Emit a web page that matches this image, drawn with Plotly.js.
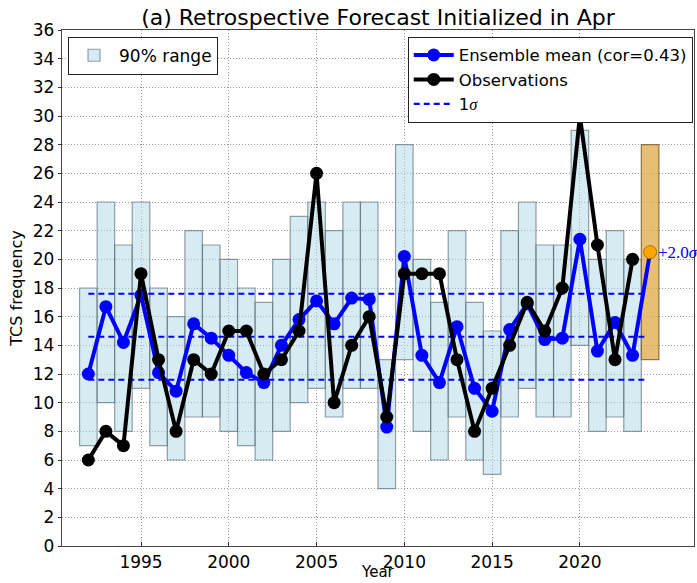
<!DOCTYPE html>
<html>
<head>
<meta charset="utf-8">
<script src="https://cdn.plot.ly/plotly-3.0.1.min.js"></script>
<style>html,body{margin:0;padding:0;background:#fff;}#chart{width:697px;height:583px;}</style>
</head>
<body>
<div id="chart"></div>
<script>
// ---- data ----
const years = [1992,1993,1994,1995,1996,1997,1998,1999,2000,2001,2002,2003,2004,2005,2006,2007,2008,2009,2010,2011,2012,2013,2014,2015,2016,2017,2018,2019,2020,2021,2022,2023];
const rangeLow  = [7,10,8,11,7,6,9,9,8,7,6,8,10,11,9,11,11,4,13,8,6,9,6,5,9,11,9,9,14,8,9,8];
const rangeHigh = [18,24,21,24,18,16,22,21,20,18,17,20,23,24,22,24,24,13,28,20,17,22,17,15,22,24,21,21,29,20,22,20];
const ensMean = [12.0,16.7,14.2,17.5,12.1,10.8,15.5,14.5,13.3,12.1,11.4,14.0,15.8,17.1,15.5,17.3,17.2,8.3,20.2,13.3,11.4,15.3,11.0,9.4,15.1,16.9,14.4,14.5,21.4,13.6,15.6,13.3];
const observations = [6,8,7,19,13,8,13,12,15,15,12,13,15,26,10,14,16,9,19,19,19,13,8,11,14,17,15,18,30,21,13,20];
const fcstYear = 2024;
const fcstMean = 20.5;
const fcstLow = 13;
const fcstHigh = 28;
const fcstLabel = '+2.0';
const sigmaLevels = [11.6, 14.6, 17.6];
const corText = '0.43';
const xTicks = [1995,2000,2005,2010,2015,2020];
const yTicks = [0,2,4,6,8,10,12,14,16,18,20,22,24,26,28,30,32,34,36];

// ---- traces ----
const sigX = [], sigY = [];
sigmaLevels.forEach(v => { sigX.push(years[0], fcstYear - 0.2, null); sigY.push(v, v, null); });

const traces = [
  {
    type: 'bar', x: years, base: rangeLow, y: rangeHigh.map((h,i)=>h-rangeLow[i]),
    width: 1, name: '90% range', legend: 'legend',
    marker: {color: 'rgba(173,216,230,0.5)', line: {color: 'rgba(80,100,110,0.6)', width: 1.2}},
    hoverinfo: 'skip'
  },
  {
    type: 'bar', x: [fcstYear], base: [fcstLow], y: [fcstHigh - fcstLow], width: 1,
    showlegend: false,
    marker: {color: 'rgba(222,170,70,0.75)', line: {color: 'rgba(120,90,40,0.8)', width: 1.2}},
    hoverinfo: 'skip'
  },
  {
    type: 'scatter', mode: 'lines', x: sigX, y: sigY, name: '1<span style="font-family:Liberation Serif;font-style:italic">σ</span>',
    legend: 'legend2', legendrank: 3,
    line: {color: '#0000ff', width: 2.2, dash: '6px,4px'}
  },
  {
    type: 'scatter', mode: 'lines', x: [years[years.length-1], fcstYear], y: [ensMean[ensMean.length-1], fcstMean],
    showlegend: false, line: {color: '#0000ff', width: 4}
  },
  {
    type: 'scatter', mode: 'lines+markers', x: years, y: ensMean,
    name: 'Ensemble mean (cor=' + corText + ')', legend: 'legend2', legendrank: 1,
    line: {color: '#0000ff', width: 4}, marker: {color: '#0000ff', size: 13}
  },
  {
    type: 'scatter', mode: 'lines+markers', x: years, y: observations,
    name: 'Observations', legend: 'legend2', legendrank: 2,
    line: {color: '#000000', width: 4}, marker: {color: '#000000', size: 13}
  },
  {
    type: 'scatter', mode: 'markers', x: [fcstYear], y: [fcstMean], showlegend: false,
    marker: {color: '#ffa500', size: 13, line: {color: '#b07000', width: 1}}
  }
];

const layout = {
  width: 697, height: 583,
  margin: {l: 62, r: 3, t: 30, b: 37},
  paper_bgcolor: '#fff', plot_bgcolor: '#fff',
  font: {family: 'DejaVu Sans', size: 16, color: '#000'},
  barmode: 'overlay',
  title: {text: '(a) Retrospective Forecast Initialized in Apr', font: {size: 22, family: 'DejaVu Sans'},
          xref: 'paper', x: 0.5, xanchor: 'center', yref: 'container', y: 0.97, yanchor: 'middle'},
  xaxis: {
    range: [1990.5, 2026.5], tickvals: xTicks, ticktext: xTicks.map(String),
    tickfont: {size: 17}, ticks: 'inside', ticklen: 4, tickcolor: '#333',
    showgrid: true, gridcolor: '#999999', griddash: '1px,2px', gridwidth: 1,
    showline: true, mirror: true, linecolor: '#444', linewidth: 1.2, zeroline: false
  },
  yaxis: {
    range: [0, 36], tickvals: yTicks, ticktext: yTicks.map(String),
    tickfont: {size: 17}, ticks: 'outside', ticklen: 3, tickcolor: '#333',
    showgrid: true, gridcolor: '#999999', griddash: '1px,2px', gridwidth: 1,
    showline: true, mirror: true, linecolor: '#444', linewidth: 1.2, zeroline: false,
    title: {text: 'TCS frequency', font: {size: 16}, standoff: 6}
  },
  legend: {
    x: 0.0095, y: 0.987, xanchor: 'left', yanchor: 'top',
    bgcolor: '#fff', bordercolor: '#222', borderwidth: 1, font: {size: 17}, itemwidth: 40
  },
  legend2: {
    x: 0.998, y: 0.987, xanchor: 'right', yanchor: 'top', traceorder: 'normal',
    bgcolor: '#fff', bordercolor: '#222', borderwidth: 1, font: {size: 16.5}, itemwidth: 40,
    tracegroupgap: 0
  },
  annotations: [
    {
      x: fcstYear, y: fcstMean, xref: 'x', yref: 'y', xanchor: 'left', yanchor: 'middle',
      xshift: 6, showarrow: false,
      text: fcstLabel + '<span style="font-style:italic">σ</span>',
      font: {family: 'Liberation Serif', size: 17, color: '#0000ff'}
    },
    {
      x: 0.5, y: 0, xref: 'paper', yref: 'paper', xanchor: 'center', yanchor: 'bottom',
      yshift: -37, showarrow: false, text: 'Year', font: {size: 15}
    }
  ]
};

Plotly.newPlot('chart', traces, layout, {displayModeBar: false, staticPlot: true});
</script>
</body>
</html>
